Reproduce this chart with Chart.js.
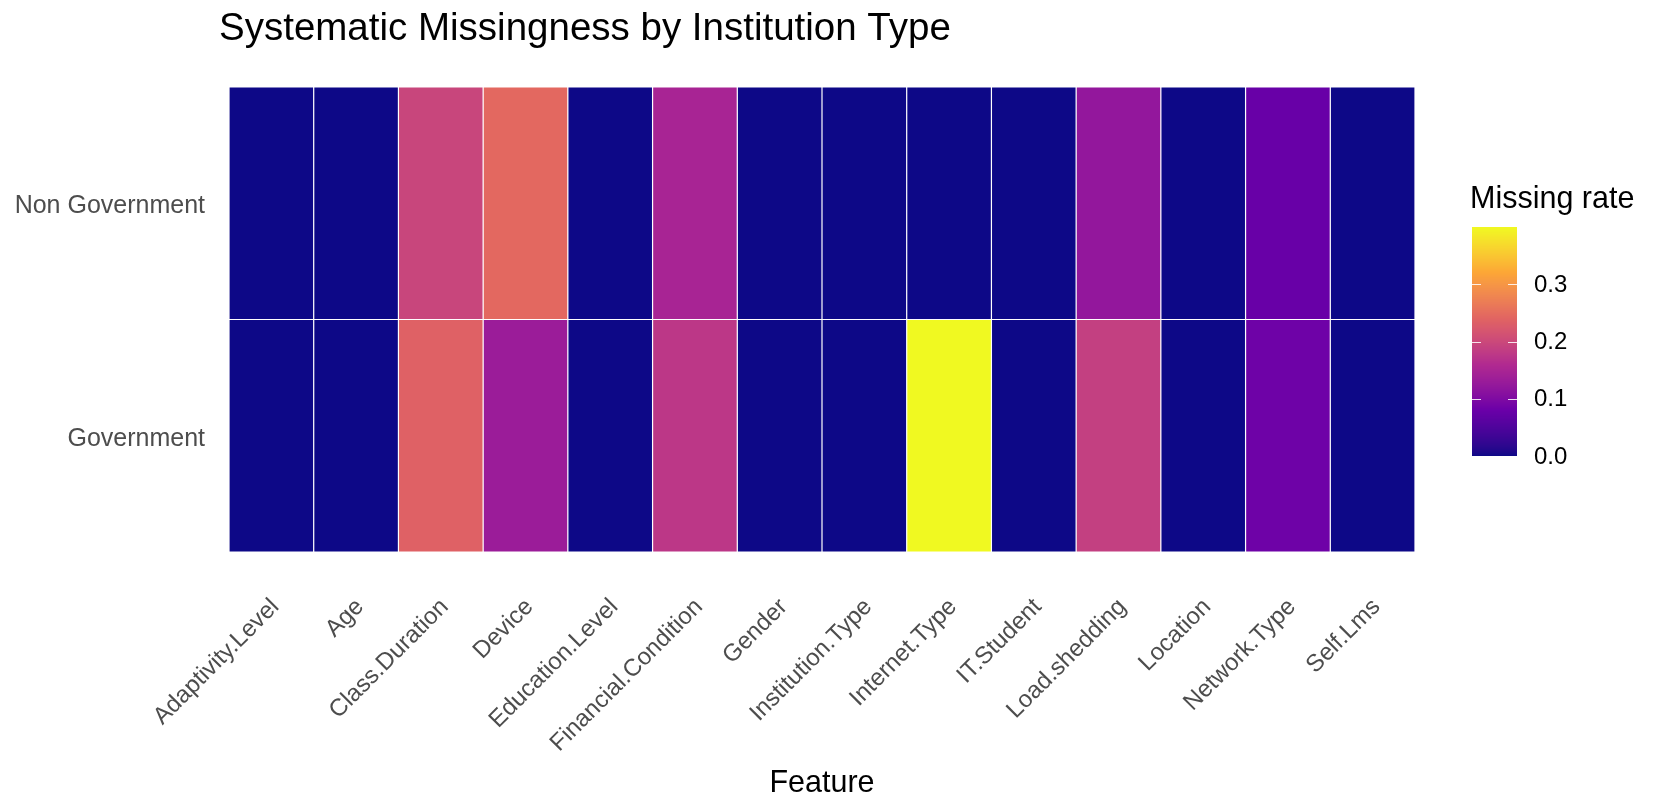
<!DOCTYPE html>
<html>
<head>
<meta charset="utf-8">
<script src="https://cdn.jsdelivr.net/npm/chart.js@4"></script>
<style>
  body { margin: 0; background: #fff; }
  #wrap { width: 1656px; height: 804px; }
</style>
</head>
<body>
<div id="wrap"><canvas id="heat"></canvas></div>
<script>
// features (x) and rows (y, bottom to top)
const features = ["Adaptivity.Level", "Age", "Class.Duration", "Device", "Education.Level",
  "Financial.Condition", "Gender", "Institution.Type", "Internet.Type", "IT.Student",
  "Load.shedding", "Location", "Network.Type", "Self.Lms"];
const rowLabels = ["Government", "Non Government"];

// missing rate per feature
const govRate    = [0, 0, 0.236, 0.132, 0, 0.176, 0, 0, 0.400, 0, 0.188, 0, 0.084, 0];
const nonGovRate = [0, 0, 0.196, 0.245, 0, 0.148, 0, 0, 0, 0, 0.122, 0, 0.078, 0];

// legend ticks
const legendTicks = [0, 0.1, 0.2, 0.3];

const TITLE = "Systematic Missingness by Institution Type";
const FONT = '"Liberation Sans", Arial, sans-serif';

// plasma, 6 stops, blended in Lab like ggplot's viridis scale
const plasma = ["#0d0887", "#6a00a8", "#b12a90", "#e16462", "#fca636", "#f0f921"];

const rateMin = 0;
const rateMax = Math.max(...govRate, ...nonGovRate);

function toLab(h) {
  const lin = [1, 3, 5].map(i => {
    const c = parseInt(h.slice(i, i + 2), 16) / 255;
    return c <= 0.04045 ? c / 12.92 : Math.pow((c + 0.055) / 1.055, 2.4);
  });
  const [r, g, b] = lin;
  const X = (0.4124 * r + 0.3576 * g + 0.1805 * b) / 0.95047;
  const Y = 0.2126 * r + 0.7152 * g + 0.0722 * b;
  const Z = (0.0193 * r + 0.1192 * g + 0.9505 * b) / 1.08883;
  const f = t => t > 0.008856 ? Math.cbrt(t) : 7.787 * t + 16 / 116;
  return [116 * f(Y) - 16, 500 * (f(X) - f(Y)), 200 * (f(Y) - f(Z))];
}

function fromLab([L, a, b]) {
  const fy = (L + 16) / 116, fx = fy + a / 500, fz = fy - b / 200;
  const inv = t => t * t * t > 0.008856 ? t * t * t : (t - 16 / 116) / 7.787;
  const X = inv(fx) * 0.95047, Y = inv(fy), Z = inv(fz) * 1.08883;
  const lin = [
    3.2406 * X - 1.5372 * Y - 0.4986 * Z,
    -0.9689 * X + 1.8758 * Y + 0.0415 * Z,
    0.0557 * X - 0.2040 * Y + 1.0570 * Z
  ];
  const c = lin.map(v => {
    const s = v <= 0.0031308 ? 12.92 * v : 1.055 * Math.pow(v, 1 / 2.4) - 0.055;
    return Math.round(Math.min(1, Math.max(0, s)) * 255);
  });
  return `rgb(${c[0]},${c[1]},${c[2]})`;
}

const plasmaLab = plasma.map(toLab);

function plasmaColor(v) {
  let t = (v - rateMin) / (rateMax - rateMin);
  t = Math.min(1, Math.max(0, t));
  const pos = t * (plasmaLab.length - 1);
  const i = Math.min(plasmaLab.length - 2, Math.floor(pos));
  const f = pos - i;
  const a = plasmaLab[i], b = plasmaLab[i + 1];
  return fromLab(a.map((x, k) => x + (b[k] - x) * f));
}

// title at the panel's left edge, and the colour bar legend
const decorations = {
  id: "decorations",
  afterDraw(chart) {
    const ctx = chart.ctx;
    ctx.save();
    ctx.fillStyle = "#000";
    ctx.font = "38.5px " + FONT;
    ctx.textAlign = "left";
    ctx.textBaseline = "alphabetic";
    ctx.fillText(TITLE, 219, 40);

    const x0 = 1472, w = 45, yBottom = 456, yTop = 227;
    const toY = v => yBottom - (v - rateMin) / (rateMax - rateMin) * (yBottom - yTop);
    for (let y = yTop; y < yBottom; y++) {
      const v = rateMin + (yBottom - y - 0.5) / (yBottom - yTop) * (rateMax - rateMin);
      ctx.fillStyle = plasmaColor(v);
      ctx.fillRect(x0, y, w, 1);
    }
    ctx.strokeStyle = "rgba(255,255,255,0.85)";
    ctx.lineWidth = 1;
    ctx.fillStyle = "#000";
    ctx.font = "24px " + FONT;
    ctx.textBaseline = "middle";
    legendTicks.forEach(v => {
      const y = Math.round(toY(v)) + 0.5;
      ctx.beginPath();
      ctx.moveTo(x0, y); ctx.lineTo(x0 + 9, y);
      ctx.moveTo(x0 + w - 9, y); ctx.lineTo(x0 + w, y);
      ctx.stroke();
      ctx.fillText(v.toFixed(1), 1534, toY(v) + 1);
    });
    ctx.font = "30.5px " + FONT;
    ctx.textBaseline = "alphabetic";
    ctx.fillText("Missing rate", 1470, 208);
    ctx.restore();
  }
};

const tileStyle = {
  borderColor: "rgba(255,255,255,0.75)",
  borderWidth: 0.6,
  borderSkipped: false,
  barPercentage: 1,
  categoryPercentage: 1,
  inflateAmount: 0
};

new Chart(document.getElementById("heat"), {
  type: "bar",
  data: {
    labels: features,
    datasets: [
      Object.assign({
        label: rowLabels[0],
        data: govRate.map(() => [0, 1]),
        rates: govRate,
        backgroundColor: govRate.map(plasmaColor)
      }, tileStyle),
      Object.assign({
        label: rowLabels[1],
        data: nonGovRate.map(() => [1, 2]),
        rates: nonGovRate,
        backgroundColor: nonGovRate.map(plasmaColor)
      }, tileStyle)
    ]
  },
  options: {
    responsive: true,
    maintainAspectRatio: false,
    animation: false,
    grouped: false,
    layout: { padding: { left: 0, right: 241, top: 87, bottom: 0 } },
    plugins: {
      legend: { display: false },
      title: { display: false },
      tooltip: {
        callbacks: {
          label: c => c.dataset.label + ": " + c.dataset.rates[c.dataIndex].toFixed(3)
        }
      }
    },
    scales: {
      x: {
        type: "category",
        grid: { display: false },
        border: { display: false },
        ticks: {
          autoSkip: false,
          maxRotation: 45,
          minRotation: 45,
          color: "#4d4d4d",
          font: { family: FONT, size: 24 },
          padding: 33,
          labelOffset: 4
        },
        title: {
          display: true,
          text: "Feature",
          color: "#000",
          font: { family: FONT, size: 30.5 },
          padding: { top: 0, bottom: 2 }
        },
        afterFit(s) { s.height = 252; }
      },
      y: {
        type: "linear",
        min: 0,
        max: 2,
        grid: { display: false },
        border: { display: false },
        afterBuildTicks(s) { s.ticks = [{ value: 0.5 }, { value: 1.5 }]; },
        ticks: {
          color: "#4d4d4d",
          font: { family: FONT, size: 25 },
          padding: 16,
          labelOffset: 3,
          callback: (v, i) => rowLabels[i]
        },
        afterFit(s) { s.width = 229; }
      }
    }
  },
  plugins: [decorations]
});
</script>
</body>
</html>
